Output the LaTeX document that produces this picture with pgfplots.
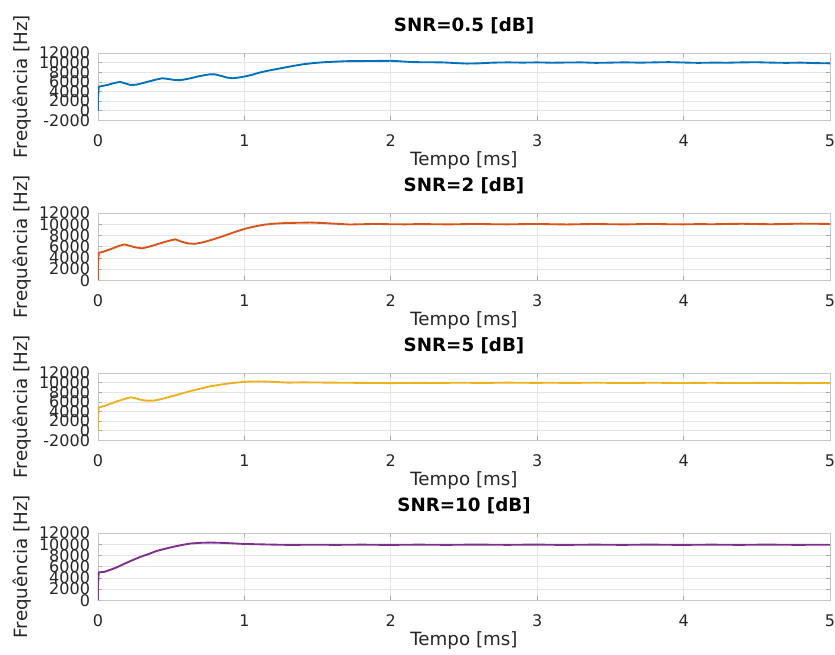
\documentclass[border=0pt]{standalone}
\usepackage{pgfplots}
\pgfplotsset{compat=1.18}
\usepackage{fontspec}
\setmainfont{DejaVu Sans}
\definecolor{c1}{rgb}{0,0.447,0.741}
\definecolor{c2}{rgb}{0.85,0.325,0.098}
\definecolor{c3}{rgb}{0.929,0.694,0.125}
\definecolor{c4}{rgb}{0.494,0.184,0.556}
\pgfplotsset{
  myax/.style={
    scale only axis, width=549pt, height=50.5pt,
    anchor=north west,
    xmin=0, xmax=5, xtick={0,1,2,3,4,5},
    ymax=12000, ytick distance=2000,
    /pgf/number format/assume math mode=true,
    scaled y ticks=false,
    yticklabel style={/pgf/number format/1000 sep={}, font=\fontsize{12}{12}\selectfont, text=black!85, xshift=-2.5pt},
    xticklabel style={font=\fontsize{12}{12}\selectfont, text=black!85, yshift=-7pt},
    grid=major, major grid style={gray!20, line width=0.5pt},
    axis line style={gray!45, line width=0.6pt},
    tick style={gray!70, line width=0.5pt},
    tick align=inside, major tick length=3pt,
    xtick pos=both, ytick pos=both,
    xlabel={Tempo [ms]}, ylabel={Frequência [Hz]},
    label style={font=\fontsize{13.7}{13.7}\selectfont, text=black!85},
    xlabel style={at={(axis description cs:0.5,0)}, anchor=center, yshift=-30pt},
    ylabel style={at={(axis description cs:-0.1038,0.5)}, anchor=center},
    title style={font=\bfseries\fontsize{13.7}{13.7}\selectfont, at={(axis description cs:0.5,1)}, anchor=center, yshift=14.25pt},
  }
}
\begin{document}
\begin{tikzpicture}
\begin{axis}[myax, at={(0,0)}, ymin=-2000, title={SNR=0.5 [dB]}]
\addplot[c1, line width=1.4pt] coordinates {
(0,0) (0,2500) (0.005,5000) (0.03,5150) (0.07,5400) (0.11,5750) (0.15,6000) (0.19,5650) (0.22,5350) (0.26,5400) (0.30,5700) (0.35,6100) (0.40,6500) (0.44,6750) (0.48,6600) (0.52,6400) (0.56,6350) (0.60,6550) (0.64,6800) (0.68,7100) (0.72,7350) (0.76,7550) (0.80,7550) (0.84,7250) (0.88,6900) (0.92,6750) (0.96,6900) (1.00,7100) (1.05,7450) (1.10,7900) (1.15,8250) (1.20,8550) (1.27,8950) (1.34,9350) (1.40,9650) (1.47,9900) (1.54,10080) (1.62,10200) (1.70,10300) (1.80,10320) (1.90,10350) (2.00,10380) (2.05,10300) (2.15,10100) (2.25,10080) (2.35,10050) (2.45,9900) (2.52,9800) (2.60,9850) (2.70,10000) (2.80,10050) (2.90,10000) (3.0,10050) (3.1,9980) (3.2,10020) (3.3,10050) (3.4,9950) (3.5,10000) (3.6,10060) (3.7,9990) (3.8,10050) (3.9,10100) (4.0,10020) (4.1,9950) (4.2,10000) (4.3,9980) (4.4,10050) (4.5,10080) (4.6,10000) (4.7,9950) (4.8,10000) (4.9,9900) (5.0,9850)
};
\end{axis}
\begin{axis}[myax, at={(0,-120pt)}, ymin=0, title={SNR=2 [dB]}]
\addplot[c2, line width=1.4pt] coordinates {
(0,0) (0,2500) (0.005,4900) (0.03,5050) (0.07,5400) (0.11,5800) (0.15,6200) (0.18,6400) (0.21,6200) (0.25,5900) (0.30,5700) (0.35,6000) (0.40,6400) (0.45,6800) (0.50,7150) (0.53,7300) (0.57,6900) (0.61,6600) (0.66,6500) (0.72,6800) (0.78,7250) (0.84,7750) (0.90,8300) (0.95,8750) (1.00,9150) (1.06,9550) (1.13,9900) (1.20,10100) (1.27,10200) (1.35,10250) (1.45,10300) (1.55,10200) (1.65,10050) (1.72,9950) (1.8,10000) (1.9,10050) (2.0,10000) (2.1,9980) (2.2,10030) (2.3,10000) (2.4,9970) (2.5,10020) (2.6,10050) (2.7,10000) (2.8,9980) (2.9,10020) (3.0,10050) (3.1,10000) (3.2,9960) (3.3,10010) (3.4,10040) (3.5,10000) (3.6,9970) (3.7,10020) (3.8,10050) (3.9,10000) (4.0,9980) (4.1,10020) (4.2,10000) (4.3,10050) (4.4,10080) (4.5,10030) (4.6,10000) (4.7,10050) (4.8,10100) (4.9,10080) (5.0,10050)
};
\end{axis}
\begin{axis}[myax, at={(0,-240pt)}, ymin=-2000, title={SNR=5 [dB]}]
\addplot[c3, line width=1.4pt] coordinates {
(0,0) (0,2500) (0.005,4850) (0.04,5100) (0.08,5550) (0.13,6100) (0.18,6600) (0.22,6950) (0.25,6800) (0.29,6450) (0.33,6250) (0.38,6250) (0.43,6550) (0.49,7050) (0.55,7550) (0.62,8150) (0.69,8700) (0.76,9200) (0.83,9550) (0.90,9850) (0.96,10050) (1.02,10200) (1.10,10250) (1.20,10150) (1.30,10000) (1.4,10050) (1.5,10020) (1.6,10000) (1.7,9970) (1.8,9950) (1.9,9920) (2.0,9900) (2.1,9930) (2.2,9950) (2.3,9920) (2.4,9960) (2.5,9980) (2.6,9940) (2.7,9960) (2.8,10000) (2.9,9970) (3.0,9950) (3.1,9980) (3.2,9940) (3.3,9960) (3.4,9990) (3.5,9950) (3.6,9920) (3.7,9950) (3.8,9980) (3.9,9940) (4.0,9920) (4.1,9950) (4.2,9970) (4.3,9930) (4.4,9910) (4.5,9940) (4.6,9960) (4.7,9920) (4.8,9900) (4.9,9930) (5.0,9900)
};
\end{axis}
\begin{axis}[myax, at={(0,-360pt)}, ymin=0, title={SNR=10 [dB]}]
\addplot[c4, line width=1.4pt] coordinates {
(0,0) (0,2500) (0.005,5000) (0.04,5050) (0.08,5400) (0.13,5900) (0.17,6400) (0.23,7100) (0.29,7750) (0.35,8300) (0.40,8800) (0.46,9200) (0.51,9520) (0.57,9850) (0.63,10120) (0.70,10250) (0.77,10300) (0.84,10250) (0.90,10180) (1.0,10050) (1.08,10000) (1.2,9930) (1.31,9880) (1.4,9900) (1.5,9920) (1.6,9890) (1.7,9900) (1.8,9930) (1.9,9900) (2.0,9880) (2.1,9910) (2.2,9930) (2.3,9900) (2.4,9890) (2.5,9920) (2.6,9940) (2.7,9910) (2.8,9890) (2.9,9920) (3.0,9940) (3.1,9900) (3.2,9880) (3.3,9910) (3.4,9930) (3.5,9900) (3.6,9890) (3.7,9920) (3.8,9930) (3.9,9900) (4.0,9880) (4.1,9910) (4.2,9930) (4.3,9900) (4.4,9890) (4.5,9920) (4.6,9930) (4.7,9900) (4.8,9890) (4.9,9910) (5.0,9900)
};
\end{axis}
\pgfresetboundingbox
\path[use as bounding box] (-73.5pt,39.75pt) rectangle (552.75pt,-451pt);
\end{tikzpicture}
\end{document}
